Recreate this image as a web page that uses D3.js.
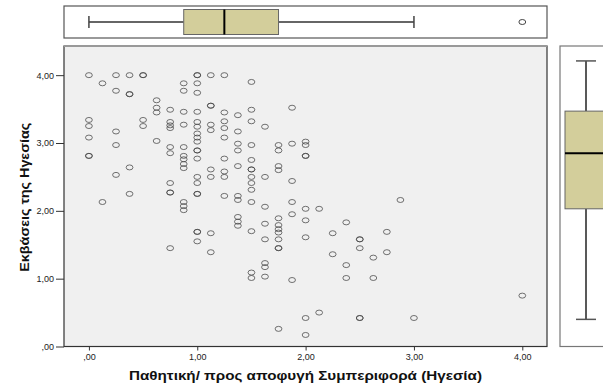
<!DOCTYPE html>
<html><head><meta charset="utf-8">
<script src="https://cdn.jsdelivr.net/npm/d3@7"></script>
<style>
body{margin:0;background:#fff;}
svg{display:block;font-family:"Liberation Sans",Arial,sans-serif;}
</style>
</head><body>
<svg id="c" width="603" height="385"></svg>
<script>
// ---- data ----
const xLevels = [0, 0.125, 0.25, 0.375, 0.5, 0.625, 0.75, 0.875, 1.0, 1.125, 1.25, 1.375, 1.5, 1.625, 1.75, 1.875, 2.0, 2.125, 2.25, 2.375, 2.5, 2.625, 2.75, 2.875, 3.0, 4.0];
const yAtLevel = [
  [4.00, 3.34, 3.25, 3.08, 2.81, 2.81],
  [3.88, 2.13],
  [4.00, 3.77, 3.17, 2.97, 2.53],
  [4.00, 3.72, 3.72, 2.64, 2.25],
  [4.00, 4.00, 3.34, 3.25],
  [3.63, 3.52, 3.45, 3.03],
  [3.49, 3.31, 3.26, 3.22, 2.94, 2.85, 2.41, 2.27, 2.27, 1.45],
  [3.88, 3.77, 3.46, 3.27, 2.94, 2.81, 2.76, 2.69, 2.63, 2.13, 2.07, 2.01],
  [4.00, 4.00, 3.88, 3.74, 3.46, 3.31, 3.24, 3.14, 3.08, 3.02, 2.89, 2.89, 2.77, 2.50, 2.41, 2.25, 2.25, 1.69, 1.69, 1.55],
  [4.00, 3.55, 3.55, 3.27, 3.19, 2.61, 2.50, 1.67, 1.39],
  [4.00, 3.45, 3.32, 3.22, 3.08, 2.77, 2.58, 2.50, 2.22],
  [3.41, 3.17, 2.99, 2.89, 2.66, 2.22, 2.16, 1.91, 1.84, 1.78],
  [3.90, 3.49, 3.32, 2.97, 2.75, 2.61, 2.61, 2.50, 2.41, 2.31, 2.13, 1.70, 1.09, 1.01],
  [3.24, 2.50, 2.06, 1.81, 1.58, 1.23, 1.17, 1.03],
  [2.97, 2.89, 2.66, 2.60, 1.89, 1.79, 1.73, 1.68, 1.58, 1.45, 1.45, 0.26],
  [3.52, 2.99, 2.44, 2.13, 1.95, 0.98],
  [3.02, 2.97, 2.81, 2.81, 2.03, 1.86, 1.61, 0.42, 0.17],
  [2.03, 0.50],
  [1.67, 1.36],
  [1.83, 1.20, 1.01],
  [1.58, 1.58, 1.45, 0.42, 0.42],
  [1.31, 1.01],
  [1.69, 1.39],
  [2.16],
  [0.42],
  [0.75]
];
const xTickValues = [0, 1, 2, 3, 4];
const xTickLabels = [",00", "1,00", "2,00", "3,00", "4,00"];
const yTickValues = [0, 1, 2, 3, 4];
const yTickLabels = [",00", "1,00", "2,00", "3,00", "4,00"];
// boxplot summaries: [lower whisker, Q1, median, Q3, upper whisker]
const topBoxStats = [0, 0.875, 1.25, 1.75, 3.0];
const topOutliers = [4.0];
const rightBoxStats = [0.40, 2.03, 2.85, 3.47, 4.21];
const xTitle = "Παθητική/ προς αποφυγή Συμπεριφορά (Ηγεσία)";
const yTitle = "Εκβάσεις της Ηγεσίας";

// ---- drawing ----
const points = xLevels.flatMap((xv, i) => yAtLevel[i].map(yv => ({x: xv, y: yv})));
const svg = d3.select("#c");
const P = {l: 64, r: 547, t: 46, b: 346.5};
const x = d3.scaleLinear().domain([-0.23, 4.228]).range([P.l, P.r]);
const y = d3.scaleLinear().domain([0, 4.43]).range([P.b, P.t]);

const boxFill = "#d3ce9b";

// main panel
svg.append("rect").attr("x", P.l).attr("y", P.t).attr("width", P.r - P.l).attr("height", P.b - P.t)
  .attr("fill", "#f0f0f0").attr("stroke", "#333").attr("stroke-width", 1.2);
svg.append("line").attr("x1", P.l).attr("x2", P.r).attr("y1", P.t).attr("y2", P.t)
  .attr("stroke", "#999").attr("stroke-width", 2);

// axes
const gx = svg.append("g").attr("transform", `translate(0,${P.b})`)
  .call(d3.axisBottom(x).tickValues(xTickValues).tickFormat((d, i) => xTickLabels[i]).tickSize(4).tickPadding(3));
gx.select(".domain").remove();
gx.selectAll("line").attr("stroke", "#333");
gx.selectAll("text").attr("font-size", 9).attr("fill", "#222").attr("font-family", "Liberation Sans, Arial, sans-serif");

const gy = svg.append("g").attr("transform", `translate(${P.l},0)`)
  .call(d3.axisLeft(y).tickValues(yTickValues).tickFormat((d, i) => yTickLabels[i]).tickSize(8).tickPadding(2));
gy.select(".domain").remove();
gy.selectAll("line").attr("stroke", "#333");
gy.selectAll("text").attr("font-size", 9).attr("fill", "#222").attr("font-family", "Liberation Sans, Arial, sans-serif");

// points
svg.append("g").selectAll("ellipse").data(points).join("ellipse")
  .attr("cx", d => x(d.x)).attr("cy", d => y(d.y))
  .attr("rx", 3.4).attr("ry", 2.5)
  .attr("fill", "none").attr("stroke", "#444").attr("stroke-opacity", 0.75).attr("stroke-width", 1);

// axis titles
svg.append("text").attr("x", (P.l + P.r) / 2).attr("y", 380).attr("text-anchor", "middle")
  .attr("font-size", 12).attr("font-weight", "bold").attr("fill", "#111")
  .attr("textLength", 353).attr("lengthAdjust", "spacingAndGlyphs").text(xTitle);
svg.append("text").attr("transform", `translate(29,${(P.t + P.b) / 2 + 1}) rotate(-90)`).attr("text-anchor", "middle")
  .attr("font-size", 12).attr("font-weight", "bold").attr("fill", "#111")
  .attr("textLength", 149).attr("lengthAdjust", "spacingAndGlyphs").text(yTitle);

// ---- top boxplot ----
const T = {t: 6, b: 38, cy: 22, h: 25, cap: 12};
svg.append("rect").attr("x", P.l).attr("y", T.t).attr("width", P.r - P.l).attr("height", T.b - T.t)
  .attr("fill", "#fff").attr("stroke", "#555").attr("stroke-width", 1.2);
const tg = svg.append("g");
tg.append("line").attr("x1", x(topBoxStats[0])).attr("x2", x(topBoxStats[1])).attr("y1", T.cy).attr("y2", T.cy).attr("stroke", "#333").attr("stroke-width", 1.5);
tg.append("line").attr("x1", x(topBoxStats[3])).attr("x2", x(topBoxStats[4])).attr("y1", T.cy).attr("y2", T.cy).attr("stroke", "#333").attr("stroke-width", 1.5);
[topBoxStats[0], topBoxStats[4]].forEach(v => {
  tg.append("line").attr("x1", x(v)).attr("x2", x(v)).attr("y1", T.cy - T.cap / 2).attr("y2", T.cy + T.cap / 2).attr("stroke", "#444").attr("stroke-width", 1.5);
});
tg.append("rect").attr("x", x(topBoxStats[1])).attr("y", T.cy - T.h / 2).attr("width", x(topBoxStats[3]) - x(topBoxStats[1])).attr("height", T.h)
  .attr("fill", boxFill).attr("stroke", "#666").attr("stroke-width", 1);
tg.append("line").attr("x1", x(topBoxStats[2])).attr("x2", x(topBoxStats[2])).attr("y1", T.cy - T.h / 2).attr("y2", T.cy + T.h / 2).attr("stroke", "#000").attr("stroke-width", 2);
tg.selectAll("ellipse").data(topOutliers).join("ellipse").attr("cx", d => x(d)).attr("cy", T.cy).attr("rx", 3.4).attr("ry", 2.5)
  .attr("fill", "none").attr("stroke", "#444").attr("stroke-width", 1);

// ---- right boxplot ----
const R = {l: 560, r: 625, cx: 586, w: 42, cap: 20};
svg.append("rect").attr("x", R.l).attr("y", P.t).attr("width", R.r - R.l).attr("height", P.b - P.t)
  .attr("fill", "#fff").attr("stroke", "#777").attr("stroke-width", 1.2);
const rg = svg.append("g");
rg.append("line").attr("x1", R.cx).attr("x2", R.cx).attr("y1", y(rightBoxStats[0])).attr("y2", y(rightBoxStats[1])).attr("stroke", "#222").attr("stroke-width", 1.5);
rg.append("line").attr("x1", R.cx).attr("x2", R.cx).attr("y1", y(rightBoxStats[3])).attr("y2", y(rightBoxStats[4])).attr("stroke", "#222").attr("stroke-width", 1.5);
[rightBoxStats[0], rightBoxStats[4]].forEach(v => {
  rg.append("line").attr("x1", R.cx - R.cap / 2).attr("x2", R.cx + R.cap / 2).attr("y1", y(v)).attr("y2", y(v)).attr("stroke", "#555").attr("stroke-width", 1.5);
});
rg.append("rect").attr("x", R.cx - R.w / 2).attr("y", y(rightBoxStats[3])).attr("width", R.w).attr("height", y(rightBoxStats[1]) - y(rightBoxStats[3]))
  .attr("fill", boxFill).attr("stroke", "#666").attr("stroke-width", 1);
rg.append("line").attr("x1", R.cx - R.w / 2).attr("x2", R.cx + R.w / 2).attr("y1", y(rightBoxStats[2])).attr("y2", y(rightBoxStats[2])).attr("stroke", "#000").attr("stroke-width", 2);
</script>
</body></html>
